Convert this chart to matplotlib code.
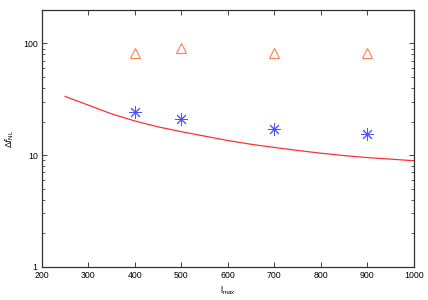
import matplotlib
matplotlib.use('Agg')
import matplotlib.pyplot as plt
from matplotlib.ticker import LogLocator, NullFormatter, FixedLocator

plt.rcParams['font.family'] = ['Liberation Sans', 'DejaVu Sans']
plt.rcParams['mathtext.default'] = 'regular'

# measured points
l_pts = [400, 500, 700, 900]
tri_vals = [82, 92, 82, 82]
star_vals = [24.4, 21.2, 17.3, 15.4]

# theory curve
l_curve = [250, 300, 350, 400, 450, 500, 550, 600, 650, 700, 750, 800, 850, 900, 950, 1000]
f_curve = [33.5, 28.0, 23.4, 20.2, 17.9, 16.2, 14.8, 13.5, 12.5, 11.7, 11.0, 10.4, 9.9, 9.5, 9.2, 8.9]

fig = plt.figure(figsize=(4.28, 3.0), dpi=100)
ax = fig.add_axes([0.098, 0.111, 0.869, 0.856])

ax.plot(l_curve, f_curve, color='#ff3030', lw=0.9)
ax.plot(l_pts, tri_vals, linestyle='none', marker='^', ms=7, mfc='none',
        mec='#ff7f50', mew=0.8)
ax.plot(l_pts, star_vals, linestyle='none', marker=(8, 2, 0), ms=9,
        mec='#5050ff', mew=0.7)

ax.set_yscale('log')
ax.set_xlim(200, 1000)
ax.set_ylim(1, 200)
ax.xaxis.set_major_locator(FixedLocator(range(200, 1001, 100)))
ax.yaxis.set_major_locator(FixedLocator([1, 10, 100]))
ax.set_yticklabels(['1', '10', '100'])
ax.yaxis.set_minor_locator(LogLocator(base=10, subs=range(2, 10)))
ax.yaxis.set_minor_formatter(NullFormatter())

ax.tick_params(which='both', direction='in', top=True, right=True, labelsize=6.3,
               color='#202020', pad=3)
ax.tick_params(which='major', length=3.5, width=0.6)
ax.tick_params(which='minor', length=2, width=0.5)
for s in ax.spines.values():
    s.set_linewidth(0.9)
    s.set_color('#303030')

ax.set_xlabel('l$_{max}$', fontsize=6.3, labelpad=3)
ax.set_ylabel(r'$\Delta \mathit{f}_{NL}$', fontsize=6.3, labelpad=5)

fig.savefig('out.png', dpi=100)
